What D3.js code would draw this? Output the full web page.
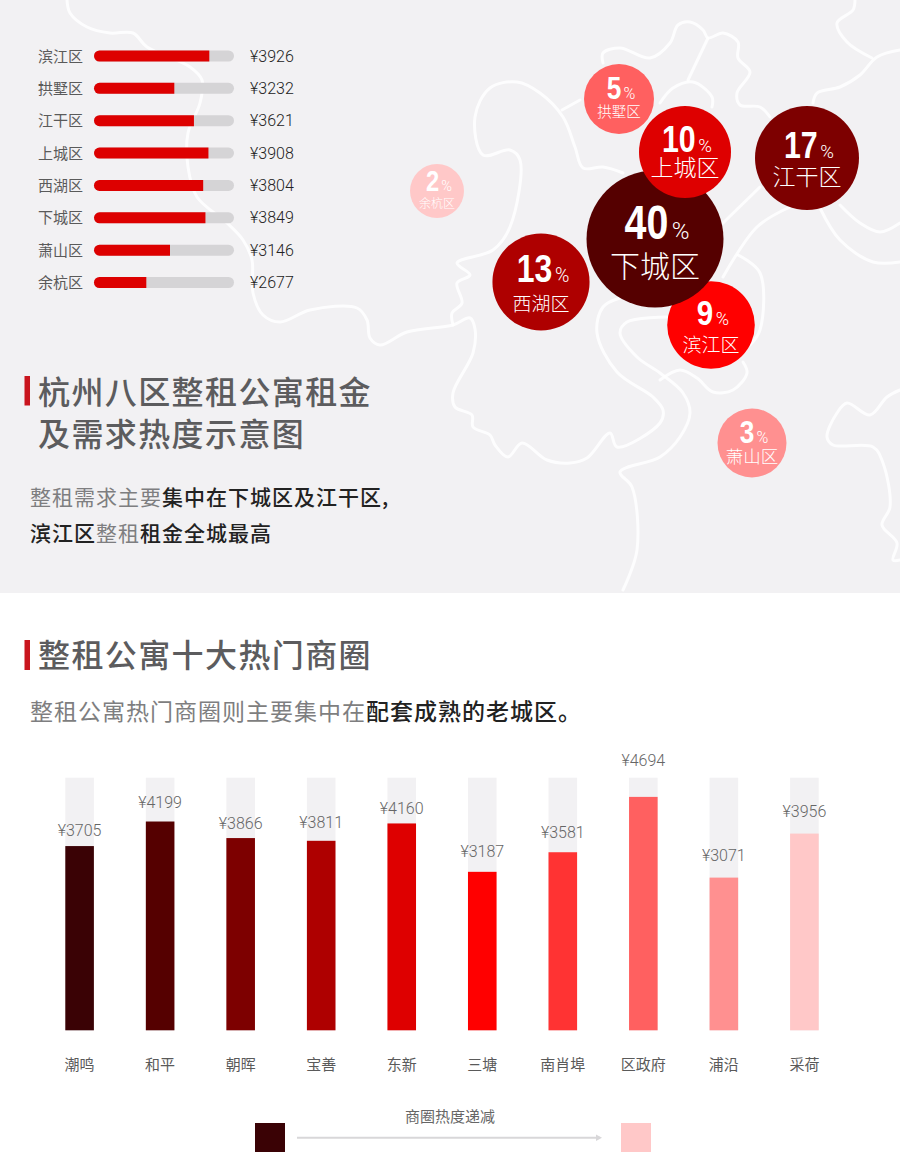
<!DOCTYPE html>
<html>
<head>
<meta charset="utf-8">
<script src="https://cdn.jsdelivr.net/npm/d3@7"></script>
<style>
  body { margin: 0; background: #fff; }
  svg { display: block; }
  text { font-family: "Noto Sans CJK SC", "Noto Sans", sans-serif; }
  .num { font-family: Roboto, "Liberation Sans", sans-serif; font-weight: 300; }
  .big { font-family: "Liberation Sans", Arial, sans-serif; font-weight: 700; }
</style>
</head>
<body>
<svg width="900" height="1174"></svg>
<script>
//--------------------------DATA------------------------------------------------
// rent per district, top left list
var rentDistricts = ["滨江区", "拱墅区", "江干区", "上城区", "西湖区", "下城区", "萧山区", "余杭区"];
var rentValues = [3926, 3232, 3621, 3908, 3804, 3849, 3146, 2677];

// demand bubbles, in painting order. mapX / mapY are schematic map grid units
var heatDistricts = ["余杭区", "萧山区", "拱墅区", "滨江区", "西湖区", "下城区", "上城区", "江干区"];
var heatShares = [2, 3, 5, 9, 13, 40, 10, 17];
var mapX = [43.7, 75.2, 61.9, 71.1, 54.1, 65.5, 68.5, 80.7];
var mapY = [19.1, 44.3, 9.9, 32.5, 28.2, 23.9, 15.2, 15.8];

// ten hot business areas, hottest first
var areaNames = ["潮鸣", "和平", "朝晖", "宝善", "东新", "三塘", "南肖埠", "区政府", "浦沿", "采荷"];
var areaRents = [3705, 4199, 3866, 3811, 4160, 3187, 3581, 4694, 3071, 3956];

var borders = [
    [[6.7,0],[7,1.3],[8.7,2.7],[11,3.3],[13.3,3.3],[14.7,4.7],[19,6.7],[20.2,8],[20,10.3],[18.8,13.3],[18.8,16.7],[19.7,19.7],[22.7,22.3],[24.3,24],[25.2,26],[25.3,29.3],[26.3,31.5],[28,32.2],[31,31],[35.7,30.8],[36.7,32],[37,33.8],[38,34.5],[40.7,33.2],[45.3,32.5],[47,31.8],[47.5,32.9],[47.3,35.3],[45.3,39.3],[45.5,40.7],[47.2,41.5],[47.3,42.7],[49,43.5],[49.5,44.5],[50.8,45.7],[52.2,44.3],[54.7,46],[57,46.3],[58.7,45.8],[61,43.3],[61.7,44.7],[66,42.3],[66.3,41],[65.3,39.7],[61.7,37.2],[59.7,33.3],[60.3,30.7],[62,29.8]],
    [[45.3,32.5],[45.2,31.3],[46.2,30.3],[45.7,28.3],[47,27.5],[45.7,26.3],[49.3,25],[51,22.7],[52,16],[51,15],[48.3,15.5],[47.5,11.7],[49,8.8],[51.7,8.2],[54,9.3],[56.3,11.7],[57.5,14.7],[58.3,16.8],[60.3,16.7],[62.3,17.3]],
    [[56.2,11],[58,10]],
    [[60.3,6.3],[60.3,5.3],[62,4.8],[65,5.8],[67,4.3],[67.8,2.5],[69,2.2],[70.3,3],[70.8,3.8],[72.3,3.3],[73.8,4.2],[73.8,5.8],[75,7.2],[73.7,9.3],[74,10.5],[76,10.7],[77,11.7]],
    [[70.8,3.8],[68.8,8]],
    [[66,10.3],[67.3,8.8],[69.3,8.2],[71.2,9.7],[71.2,10.7]],
    [[85.5,0],[85.3,1],[83.7,2.3],[84.7,4.2],[87.2,5.8]],
    [[90,5],[87.7,5.7],[86,7.5],[84,8.7],[81.7,9.3],[81.3,10.3]],
    [[82,20.8],[84,24],[87.3,26.2],[90,26.2]],
    [[84,20.5],[86,22.3],[88,23.2],[90,22.3]],
    [[76,18.7],[72.3,22.3]],
    [[79,20.7],[75.7,22.7],[72.3,27.7]],
    [[73.8,25.5],[76,27.3],[76,33],[75,34.5]],
    [[74.3,36.2],[74.7,37.3],[73.3,39],[71.3,39.2],[69.7,37.8],[68,37],[66,38]],
    [[66.7,31.7],[62.7,32.2],[62,33.3],[63.7,35.7],[66,37.3],[68.3,39.3],[69,41.3],[68,43.7],[66,45.7],[62,47.2],[63.2,48.7],[63.7,55],[62.3,59]],
    [[90,39],[88.7,39.7],[87,41.5],[84.7,40.3],[83.7,41.3],[82.7,43.7],[83.3,44.5],[87.3,44.7],[88.3,46.3],[89,50.7],[88.2,52.5],[89.7,54.3],[89.3,56],[90,56]]
];

// ramp shared by both charts, one colour per rank
var areaColors = ["#3a0205", "#550000", "#7d0000", "#ae0000", "#de0000", "#ff0000", "#ff3333", "#ff6060", "#ff9090", "#ffc8c8"];
var heatColors = ["#ffc8c8", "#ff9090", "#ff6060", "#ff0000", "#ae0000", "#550000", "#de0000", "#7d0000"];
// label sizes per bubble: number, name, name drop below the centre
var bubbleNumSize = [29, 32, 32, 36, 39, 48, 37, 37];
var bubbleNameSize = [12, 17.5, 14.5, 19, 19, 30, 23, 23];
var bubbleNameDrop = [13, 14, 12.5, 20, 22, 27, 16, 18.5];
// distance of each rent label above its bar, the 4694 one clears the track
var areaLabelLift = [10, 14, 9, 13, 9, 15, 14.5, 31, 17, 17];


//--------------------------SETUP-----------------------------------------------
var svg = d3.select("svg");
var grey = "#f2f1f3";

svg.append("rect").attr("width", 900).attr("height", 593).attr("fill", grey);

function rich(x, y, size, spacing, parts) {
    var t = svg.append("text")
        .attr("x", x)
        .attr("y", y)
        .style("font-size", size + "px")
        .style("letter-spacing", spacing + "px");
    t.selectAll("tspan")
        .data(parts)
        .enter().append("tspan")
        .attr("fill", function(d) { return d[1] ? "#222" : "#7e7e80"; })
        .style("font-weight", function(d) { return d[1] ? 500 : 400; })
        .text(function(d) { return d[0]; });
}

function heading(x, y, text) {
    svg.append("text")
        .attr("x", x)
        .attr("y", y)
        .attr("fill", "#5c5c5e")
        .style("font-size", "32px")
        .style("font-weight", 500)
        .style("letter-spacing", "1.4px")
        .text(text);
}


//--------------------------MAP-------------------------------------------------
var gridX = d3.scaleLinear().domain([0, 90]).range([0, 900]);
var gridY = d3.scaleLinear().domain([0, 60]).range([0, 600]);

var borderLine = d3.line()
    .x(function(d) { return gridX(d[0]); })
    .y(function(d) { return gridY(d[1]); })
    .curve(d3.curveCatmullRom.alpha(0.5));

svg.append("defs").append("clipPath").attr("id", "mapClip")
    .append("rect").attr("width", 900).attr("height", 593);

svg.append("g")
    .attr("clip-path", "url(#mapClip)")
    .selectAll("path")
    .data(borders)
    .enter().append("path")
    .attr("d", borderLine)
    .attr("fill", "none")
    .attr("stroke", "#fff")
    .attr("stroke-width", 3)
    .attr("stroke-opacity", 0.85)
    .attr("stroke-linejoin", "round")
    .attr("stroke-linecap", "round");


//--------------------------RENT LIST-------------------------------------------
var rowY = d3.scalePoint().domain(rentDistricts).range([56, 282.5]);
var rentX = d3.scaleLinear().domain([1640, 4415]).range([94, 234]);
var barH = 11;

var rows = svg.append("g")
    .selectAll("g")
    .data(rentDistricts)
    .enter().append("g")
    .attr("transform", function(d) { return "translate(0," + rowY(d) + ")"; });

rows.append("text")
    .attr("x", 38)
    .attr("y", 5.5)
    .attr("fill", "#5a5a5a")
    .style("font-size", "15px")
    .text(function(d) { return d; });

rows.append("rect")
    .attr("x", rentX.range()[0])
    .attr("y", -barH / 2)
    .attr("width", rentX.range()[1] - rentX.range()[0])
    .attr("height", barH)
    .attr("rx", barH / 2)
    .attr("fill", "#d5d4d6");

// red part: round on the left, square on the right
rows.append("path")
    .attr("d", function(d, i) {
        var p = d3.path();
        var r = barH / 2;
        var x0 = rentX.range()[0];
        p.moveTo(rentX(rentValues[i]), -r);
        p.lineTo(x0 + r, -r);
        p.arc(x0 + r, 0, r, -Math.PI / 2, Math.PI / 2, true);
        p.lineTo(rentX(rentValues[i]), r);
        p.closePath();
        return p.toString();
    })
    .attr("fill", "#dd0000");

rows.append("text")
    .attr("class", "num")
    .attr("x", 250)
    .attr("y", 5.5)
    .attr("fill", "#222")
    .style("font-size", "16px")
    .text(function(d, i) { return "¥" + rentValues[i]; });


//--------------------------BUBBLES---------------------------------------------
var radius = d3.scaleLinear().domain([2, 3, 5, 10, 17, 40]).range([27, 34.5, 35, 46, 52, 68.5]);

var bubbles = svg.append("g")
    .selectAll("g")
    .data(heatDistricts)
    .enter().append("g")
    .attr("transform", function(d, i) {
        return "translate(" + gridX(mapX[i]) + "," + gridY(mapY[i]) + ")";
    });

bubbles.append("circle")
    .attr("r", function(d, i) { return radius(heatShares[i]); })
    .attr("fill", function(d, i) { return heatColors[i]; });

// no narrow face is installed, so the bold digits get squeezed to 82%
function numberWidth(i) {
    return String(heatShares[i]).length * 0.456 * bubbleNumSize[i];
}
function shareLeft(i) {
    var s = bubbleNumSize[i];
    return 2 - (numberWidth(i) + 0.07 * s + 0.37 * s) / 2;
}

bubbles.append("text")
    .attr("class", "big")
    .attr("transform", function(d, i) { return "translate(" + shareLeft(i) + ",0) scale(0.82,1)"; })
    .attr("fill", "#fff")
    .style("font-size", function(d, i) { return bubbleNumSize[i] + "px"; })
    .text(function(d, i) { return heatShares[i]; });

bubbles.append("text")
    .attr("class", "num")
    .attr("x", function(d, i) { return shareLeft(i) + numberWidth(i) + 0.07 * bubbleNumSize[i]; })
    .attr("fill", "#fff")
    .style("font-size", function(d, i) { return bubbleNumSize[i] * 0.5 + "px"; })
    .text("%");

bubbles.append("text")
    .attr("text-anchor", "middle")
    .attr("y", function(d, i) { return bubbleNameDrop[i] + bubbleNameSize[i] * 0.36; })
    .attr("fill", "#fff")
    .style("font-size", function(d, i) { return bubbleNameSize[i] + "px"; })
    .style("font-weight", 300)
    .text(function(d) { return d; });


//--------------------------HEADINGS--------------------------------------------
svg.append("rect").attr("x", 24.5).attr("y", 376).attr("width", 5.5).attr("height", 29.5).attr("fill", "#c9151e");
svg.append("rect").attr("x", 24.5).attr("y", 640).attr("width", 5.5).attr("height", 30).attr("fill", "#c9151e");

heading(38, 403.5, "杭州八区整租公寓租金");
heading(38, 445.5, "及需求热度示意图");
heading(38, 666.5, "整租公寓十大热门商圈");

rich(30, 504.5, 21, 1, [["整租需求主要", false], ["集中在下城区及江干区,", true]]);
rich(30, 540.5, 21, 1, [["滨江区", true], ["整租", false], ["租金全城最高", true]]);
rich(30, 720, 23, 1, [["整租公寓热门商圈则主要集中在", false], ["配套成熟的老城区。", true]]);


//--------------------------AREA BARS-------------------------------------------
var areaX = d3.scaleBand().domain(areaNames).range([65.3, 818.7]).paddingInner(0.645);
var areaY = d3.scaleLinear().domain([0, 5080]).range([1030.3, 777.7]);

var areas = svg.append("g")
    .selectAll("g")
    .data(areaNames)
    .enter().append("g");

areas.append("rect")
    .attr("x", function(d) { return areaX(d); })
    .attr("y", areaY.range()[1])
    .attr("width", areaX.bandwidth())
    .attr("height", areaY.range()[0] - areaY.range()[1])
    .attr("fill", grey);

areas.append("rect")
    .attr("x", function(d) { return areaX(d); })
    .attr("y", function(d, i) { return areaY(areaRents[i]); })
    .attr("width", areaX.bandwidth())
    .attr("height", function(d, i) { return areaY(0) - areaY(areaRents[i]); })
    .attr("fill", function(d, i) { return areaColors[i]; });

areas.append("text")
    .attr("class", "num")
    .attr("x", function(d) { return areaX(d) + areaX.bandwidth() / 2; })
    .attr("y", function(d, i) { return areaY(areaRents[i]) - areaLabelLift[i]; })
    .attr("text-anchor", "middle")
    .attr("fill", "#666")
    .style("font-size", "16px")
    .text(function(d, i) { return "¥" + areaRents[i]; });

areas.append("text")
    .attr("x", function(d) { return areaX(d) + areaX.bandwidth() / 2; })
    .attr("y", 1069.5)
    .attr("text-anchor", "middle")
    .attr("fill", "#5a5a5a")
    .style("font-size", "15px")
    .text(function(d) { return d; });


//--------------------------LEGEND----------------------------------------------
var legend = svg.append("g");

legend.append("rect").attr("x", 255).attr("y", 1123).attr("width", 30).attr("height", 29).attr("fill", areaColors[0]);
legend.append("rect").attr("x", 621).attr("y", 1123).attr("width", 30).attr("height", 29).attr("fill", areaColors[areaColors.length - 1]);
legend.append("line")
    .attr("x1", 297).attr("x2", 600)
    .attr("y1", 1137.7).attr("y2", 1137.7)
    .attr("stroke", "#d8d7d9")
    .attr("stroke-width", 2);
legend.append("path")
    .attr("d", "M596,1134.5L602,1137.7L596,1141Z")
    .attr("fill", "#d8d7d9");
legend.append("text")
    .attr("x", 450)
    .attr("y", 1122)
    .attr("text-anchor", "middle")
    .attr("fill", "#666")
    .style("font-size", "15px")
    .text("商圈热度递减");
</script>
</body>
</html>
